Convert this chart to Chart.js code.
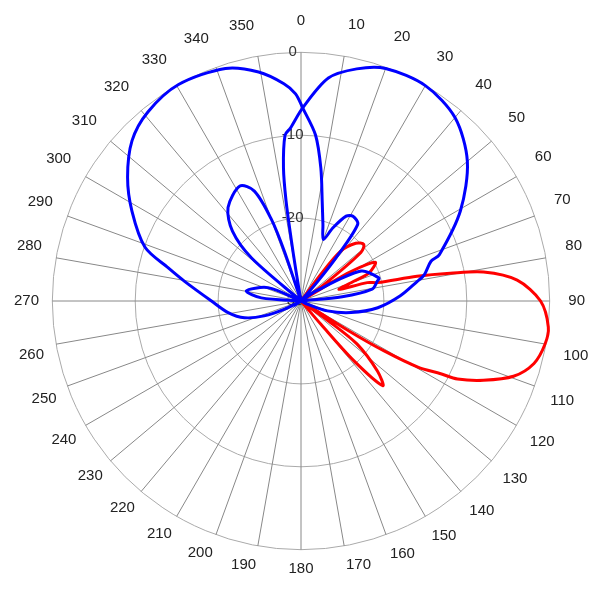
<!DOCTYPE html>
<html>
<head>
<meta charset="utf-8">
<script src="https://cdn.jsdelivr.net/npm/chart.js@4.4.0/dist/chart.umd.min.js"></script>
<style>
  html, body { margin: 0; padding: 0; background: #ffffff; }
  #wrap { width: 600px; height: 600px; }
</style>
</head>
<body>
<div id="wrap"><canvas id="polarChart" width="600" height="600"></canvas></div>
<script>
// angular resolution of the radar categories, in degrees
const step = 0.5;

// tick labels
const angleTicks = [0, 10, 20, 30, 40, 50, 60, 70, 80, 90, 100, 110, 120, 130, 140, 150, 160, 170,
  180, 190, 200, 210, 220, 230, 240, 250, 260, 270, 280, 290, 300, 310, 320, 330, 340, 350];
const levelMin = -30;
const levelMax = 0;
const levelStep = 10;

// blue trace with the big left lobe (angle in degrees, level in dB)
const blueAAngles = [0.5, 5, 8.5, 12, 16, 20, 23.5, 28, 31.5, 36.5, 39, 40.5, 42,
  52, 56.5, 63.5, 73.5, 75.5, 80.5, 84, 88,
  240, 243.5, 248, 253.5, 261, 270, 279.5, 284, 289, 298, 305.5, 313.5, 321, 330.5, 342, 349.5, 355.5, 358.5];
const blueADb = [-6.7, -9.9, -13.8, -17.7, -20.4, -22.1, -20.4, -18.4, -18.0, -18.5, -23.3, -27, -30,
  -30, -27.8, -21.9, -20.2, -20.5, -21.3, -25, -30,
  -30, -27.8, -25.2, -22.9, -21.1, -19.2, -15.8, -13.5, -10.1, -6.9, -4.3, -1.9, -0.65, 0, -0.5, -1.9, -3.7, -5.0];

// blue trace with the big right lobe
const blueBAngles = [0.5, 7, 13.5, 20, 30, 40, 50, 60.5, 71.5, 73, 78, 80.5, 87, 95, 103, 110.5, 116, 120,
  266, 274.5, 280.5, 292, 298,
  304, 311, 315.5, 322, 332, 337, 340, 341.5, 344,
  349, 350.5, 351, 351.5, 352.5, 354.5, 356.5];
const blueBDb = [-6.7, -2.9, -1.2, -0.15, 0, -1.1, -3.8, -7.9, -12.4, -13.6, -14.8, -15.8, -18.0, -20.7, -23.8, -26.6, -29.1, -30,
  -30, -25.2, -23.3, -25.7, -30,
  -30, -22.1, -18.2, -15.7, -14.3, -15.6, -19.4, -23.7, -30,
  -30, -26.3, -22.3, -17.8, -13.8, -9.9, -9.1];

// red trace
const redAngles = [0, 30, 36.5, 38.5, 43.5, 48, 51, 54.5, 56, 58.5, 59.5, 62.5, 67.5, 69.5, 73, 74.5, 76.5,
  78, 79.5, 81, 84.5, 90, 96, 100, 105, 109.5, 113.5, 116.5, 117.5, 119.5, 121, 122, 124.5,
  126, 127.5, 132.5, 136, 138.5, 139.5, 141, 180];
const redDb = [-30, -30, -26, -22.3, -20.4, -19.8, -20.7, -26.6, -30, -26.5, -23, -19.9, -21.1, -23.2, -25.2, -21.7, -20.5,
  -15.7, -11.7, -7.7, -3.8, -1.1, 0, -0.1, -0.9, -2.8, -6.0, -8.9, -11.0, -13.8, -18.3, -23, -30,
  -26, -21.5, -17.5, -15.8, -20.4, -26.3, -30, -30];

const count = Math.round(360 / step);

// category labels: only every 10 degrees carries text
const labels = [];
for (let i = 0; i < count; i++) labels.push('');
angleTicks.forEach(a => { labels[Math.round(a / step)] = String(a); });

// place readings on the radar categories, gaps are spanned by the line
function toSeries(angles, values) {
  const out = new Array(count).fill(null);
  angles.forEach((a, i) => { out[Math.round(a / step) % count] = values[i]; });
  return out;
}

const ctx = document.getElementById('polarChart').getContext('2d');
new Chart(ctx, {
  type: 'radar',
  data: {
    labels: labels,
    datasets: [
      { label: 'A', data: toSeries(blueAAngles, blueADb), borderColor: '#0000ff' },
      { label: 'B', data: toSeries(blueBAngles, blueBDb), borderColor: '#0000ff' },
      { label: 'C', data: toSeries(redAngles, redDb), borderColor: '#ff0000' }
    ]
  },
  options: {
    responsive: false,
    animation: false,
    layout: { padding: { top: 0, bottom: 8, left: 14, right: 11 } },
    datasets: { radar: { spanGaps: true } },
    elements: {
      line: { borderWidth: 3, tension: 0.3, fill: false },
      point: { radius: 0, hitRadius: 0, hoverRadius: 0 }
    },
    plugins: {
      legend: { display: false },
      tooltip: { enabled: false }
    },
    scales: {
      r: {
        min: levelMin,
        max: levelMax,
        ticks: {
          stepSize: levelStep,
          color: '#333333',
          font: { size: 15, family: 'Arial' },
          showLabelBackdrop: false,
          callback: v => v + '    ' // shifts the centred label left of the 0 spoke
        },
        grid: { circular: true, color: '#aaaaaa', lineWidth: 1 },
        angleLines: {
          color: '#888888',
          lineWidth: c => (c.index % Math.round(10 / step) === 0 ? 1 : 0)
        },
        pointLabels: {
          color: '#222222',
          font: { size: 15, family: 'Arial' },
          padding: c => {
            const a = c.index * step * Math.PI / 180;
            return 6.5 + 6 * Math.cos(a) + 2.7 * Math.sin(a);
          }
        }
      }
    }
  }
});
</script>
</body>
</html>
